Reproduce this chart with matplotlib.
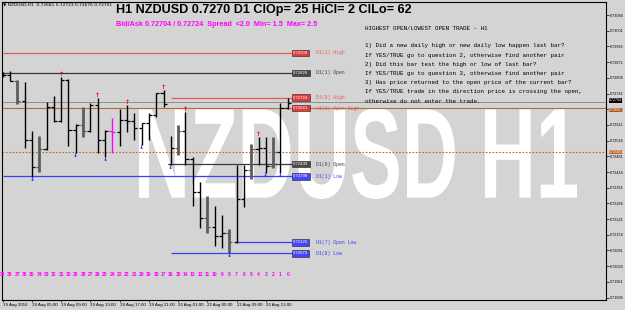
import numpy as np
import matplotlib
matplotlib.use('Agg')
import matplotlib.pyplot as plt
from matplotlib.textpath import TextPath
from matplotlib.patches import PathPatch
from matplotlib.font_manager import FontProperties
from matplotlib.transforms import Affine2D, blended_transform_factory

# H1 bars, oldest first (bar 39 ... bar 0)
opens = [0.72826, 0.72818, 0.72794, 0.72710, 0.72549, 0.72436, 0.72511, 0.72686, 0.72628, 0.72797,
         0.72590, 0.72612, 0.72587, 0.72693, 0.72549, 0.72587, 0.72583, 0.72631, 0.72627, 0.72598,
         0.72618, 0.72652, 0.72742, 0.72449, 0.72515, 0.72587, 0.72470, 0.72332, 0.72224, 0.72190,
         0.72152, 0.72162, 0.72125, 0.72304, 0.72424, 0.72510, 0.72514, 0.72441, 0.72500, 0.72681]
highs = [0.72830, 0.72834, 0.72796, 0.72790, 0.72586, 0.72565, 0.72707, 0.72731, 0.72811, 0.72800,
         0.72615, 0.72686, 0.72700, 0.72722, 0.72590, 0.72640, 0.72677, 0.72693, 0.72660, 0.72620,
         0.72660, 0.72744, 0.72756, 0.72565, 0.72611, 0.72666, 0.72478, 0.72376, 0.72317, 0.72275,
         0.72238, 0.72179, 0.72445, 0.72445, 0.72532, 0.72562, 0.72560, 0.72562, 0.72703, 0.72723]
lows = [0.72809, 0.72793, 0.72698, 0.72517, 0.72397, 0.72415, 0.72508, 0.72624, 0.72622, 0.72524,
        0.72493, 0.72560, 0.72583, 0.72495, 0.72479, 0.72495, 0.72524, 0.72583, 0.72549, 0.72528,
        0.72549, 0.72645, 0.72686, 0.72445, 0.72486, 0.72445, 0.72275, 0.72183, 0.72162, 0.72110,
        0.72100, 0.72079, 0.72121, 0.72272, 0.72386, 0.72445, 0.72411, 0.72431, 0.72411, 0.72676]
closes = [0.72818, 0.72794, 0.72710, 0.72549, 0.72436, 0.72511, 0.72686, 0.72628, 0.72797, 0.72590,
          0.72612, 0.72587, 0.72693, 0.72549, 0.72587, 0.72583, 0.72631, 0.72627, 0.72598, 0.72618,
          0.72652, 0.72742, 0.72696, 0.72515, 0.72587, 0.72470, 0.72332, 0.72224, 0.72190, 0.72152,
          0.72162, 0.72125, 0.72304, 0.72424, 0.72510, 0.72514, 0.72441, 0.72500, 0.72681, 0.72701]
bar_numbers = list(range(39, -1, -1))
grey_bars = [2, 5, 11, 24, 28, 31, 34, 37]
magenta_bars = [15]
up_arrows = [8, 13, 17, 22, 25, 35]
down_arrows = [4, 10, 14, 19, 23, 31, 36, 38]

date_bars = [0, 4, 8, 12, 16, 20, 24, 28, 32, 36]
date_labels = ["19 Aug 2016", "19 Aug 05:00", "19 Aug 09:00", "19 Aug 13:00", "19 Aug 17:00",
               "19 Aug 21:00", "22 Aug 01:00", "22 Aug 05:00", "22 Aug 09:00", "22 Aug 13:00"]

price_ticks = [0.73066, 0.73001, 0.72936, 0.72871, 0.72806, 0.72741, 0.72676, 0.72611, 0.72546,
               0.72481, 0.72416, 0.72351, 0.72286, 0.72221, 0.72156, 0.72091, 0.72026, 0.71961, 0.71896]

level_names = ["D1(1) High", "D1(1) Open", "D1(0) High", "H1(0) Open High",
               "D1(0) Open", "D1(1) Low", "H1(7) Open Low", "D1(0) Low"]
level_prices = [0.72909, 0.72826, 0.72724, 0.72681, 0.72449, 0.72398, 0.72125, 0.72079]
level_from_bar = [0, 0, 23, 39, 23, 0, 32, 23]
level_kind = ["high", "open", "high", "high", "open", "low", "low", "low"]

bid, ask = 0.72704, 0.72724
round_level = 0.72500

title = "H1 NZDUSD 0.7270 D1 ClOp= 25 HiCl= 2 ClLo= 62"
subtitle = "Bid/Ask 0.72704 / 0.72724  Spread  <2.0  Min= 1.5  Max= 2.5"
notes = ["1) Did a new daily high or new daily low happen last bar?",
         "If YES/TRUE go to question 2, otherwise find another pair",
         "2) Did this bar test the high or low of last bar?",
         "If YES/TRUE go to question 3, otherwise find another pair",
         "3) Has price returned to the open price of the current bar?",
         "If YES/TRUE trade in the direction price is crossing the open,",
         "otherwise do not enter the trade."]

W, H = 625, 310
bg = '#d4d4d4'
fig = plt.figure(figsize=(W / 100, H / 100), dpi=100, facecolor=bg)
ax = fig.add_axes([2 / W, 10 / H, 604 / W, 298 / H], facecolor=bg)
ax.set_xlim(-0.096, 82.53)
ax.set_ylim(0.71886, 0.73120)
for s in ax.spines.values():
    s.set_color('black')
    s.set_linewidth(0.8)

# big white watermark, squeezed into its box
fp = FontProperties(family='Liberation Sans', weight='bold')
tp = TextPath((0, 0), 'NZDUSD H1', size=100, prop=fp)
bb = tp.get_extents()
x0, x1, y0, y1 = 139, 577, 108, 199
tr = (Affine2D().translate(-bb.x0, -bb.y0)
      .scale((x1 - x0) / bb.width / W, (y1 - y0) / bb.height / H)
      .translate(x0 / W, 1 - y1 / H))
ax.add_patch(PathPatch(tp, transform=tr + fig.transFigure, fc='white', ec='none', zorder=0.5))

# horizontal levels
ax.axhline(bid, color='#8e8e8e', lw=0.7, zorder=1)
ax.axhline(opens[-1], color='#b86a30', lw=0.8, zorder=1)
ax.axhline(round_level, color='#b86a30', lw=0.8, ls=(0, (1.5, 1.5)), zorder=1)

kind_col = {"high": "#e85a5a", "open": "#3a3a3a", "low": "#3c3cff"}
box_col = {"high": "#e03c3c", "open": "#4a4a4a", "low": "#4646ff"}
x_box = 39.71
x_name = 42.86
for name, val, start, kind in zip(level_names, level_prices, level_from_bar, level_kind):
    ax.hlines(val, start, x_box, colors=kind_col[kind], lw=0.9, zorder=2)
    ax.text(x_box, val, f'{val:.5f}', fontsize=3.1, color='white', va='center', ha='left',
            family='Liberation Sans', zorder=6,
            bbox=dict(boxstyle='square,pad=0.3', fc=box_col[kind], ec='#202020', lw=0.4))
    ax.text(x_name, val, name, fontsize=3.4, color=kind_col[kind], va='center', ha='left',
            family='Liberation Mono', zorder=6)

# OHLC bars
x = np.arange(len(opens))
cols = ['#5c5c5c' if i in grey_bars else '#ff00ff' if i in magenta_bars else 'black' for i in x]
lws = [2.0 if i in grey_bars else 1.0 for i in x]
ax.vlines(x, lows, highs, colors=cols, linewidths=lws, zorder=3)
ax.hlines(opens, x - 0.42, x, colors=cols, linewidths=0.9, zorder=3)
ax.hlines(closes, x, x + 0.42, colors=cols, linewidths=0.9, zorder=3)

for i in up_arrows:
    ax.text(i, highs[i], '↑', color='red', fontsize=4.5, ha='center', va='bottom',
            fontweight='bold', zorder=4)
for i in down_arrows:
    ax.text(i, lows[i], '↓', color='#2020ff', fontsize=4.5, ha='center', va='top',
            fontweight='bold', zorder=4)

# bar count numbers
tb = blended_transform_factory(ax.transData, ax.transAxes)
for i, n in zip(x, bar_numbers):
    ax.text(i, 25 / 298, str(n), transform=tb, fontsize=3.6, color='#ff00ff', ha='center',
            va='center', fontweight='bold', family='Liberation Sans')

# right price axis
ax.yaxis.tick_right()
ax.set_yticks(price_ticks)
ax.set_yticklabels([f'{v:.5f}' for v in price_ticks], fontsize=2.7, family='Liberation Sans')
ax.tick_params(axis='y', length=2, width=0.5, pad=0.8)
ta = blended_transform_factory(ax.transAxes, ax.transData)
for val, fc, va in [(bid, 'black', 'bottom'), (opens[-1], '#b0561c', 'top'),
                    (round_level, '#c0662a', 'center')]:
    ax.text(1.005, val, f'{val:.5f}', transform=ta, fontsize=2.6, color='white', va=va,
            ha='left', family='Liberation Sans', clip_on=False, zorder=7,
            bbox=dict(boxstyle='square,pad=0.05', fc=fc, ec='none'))

# time axis
ax.set_xticks(date_bars)
ax.set_xticklabels(date_labels, fontsize=3.2, ha='left', family='Liberation Sans')
ax.tick_params(axis='x', length=1.5, width=0.5, pad=0.5)

# header texts
fig.text(3 / W, 1 - 5 / H, '▼ NZDUSD,H1  ' + ' '.join(f'{v:.5f}' for v in
         [opens[-1], highs[-1], lows[-1], closes[-1]]), fontsize=3.2, va='center')
fig.text(116 / W, 1 - 10 / H, title, fontsize=9.1, fontweight='bold', family='Liberation Sans',
         va='center')
fig.text(116 / W, 1 - 24 / H, subtitle, fontsize=5.2, fontweight='bold', color='#ff00ff',
         family='Liberation Sans', va='center')
fig.text(365 / W, 1 - 28 / H, "HIGHEST OPEN/LOWEST OPEN TRADE - H1", fontsize=4.2,
         family='Liberation Mono', va='center')
for j, line in enumerate(notes):
    fig.text(365 / W, 1 - (46 + 9.2 * j) / H, line, fontsize=4.2, family='Liberation Mono',
             va='center')

fig.savefig('out.png', dpi=100, facecolor=bg)
